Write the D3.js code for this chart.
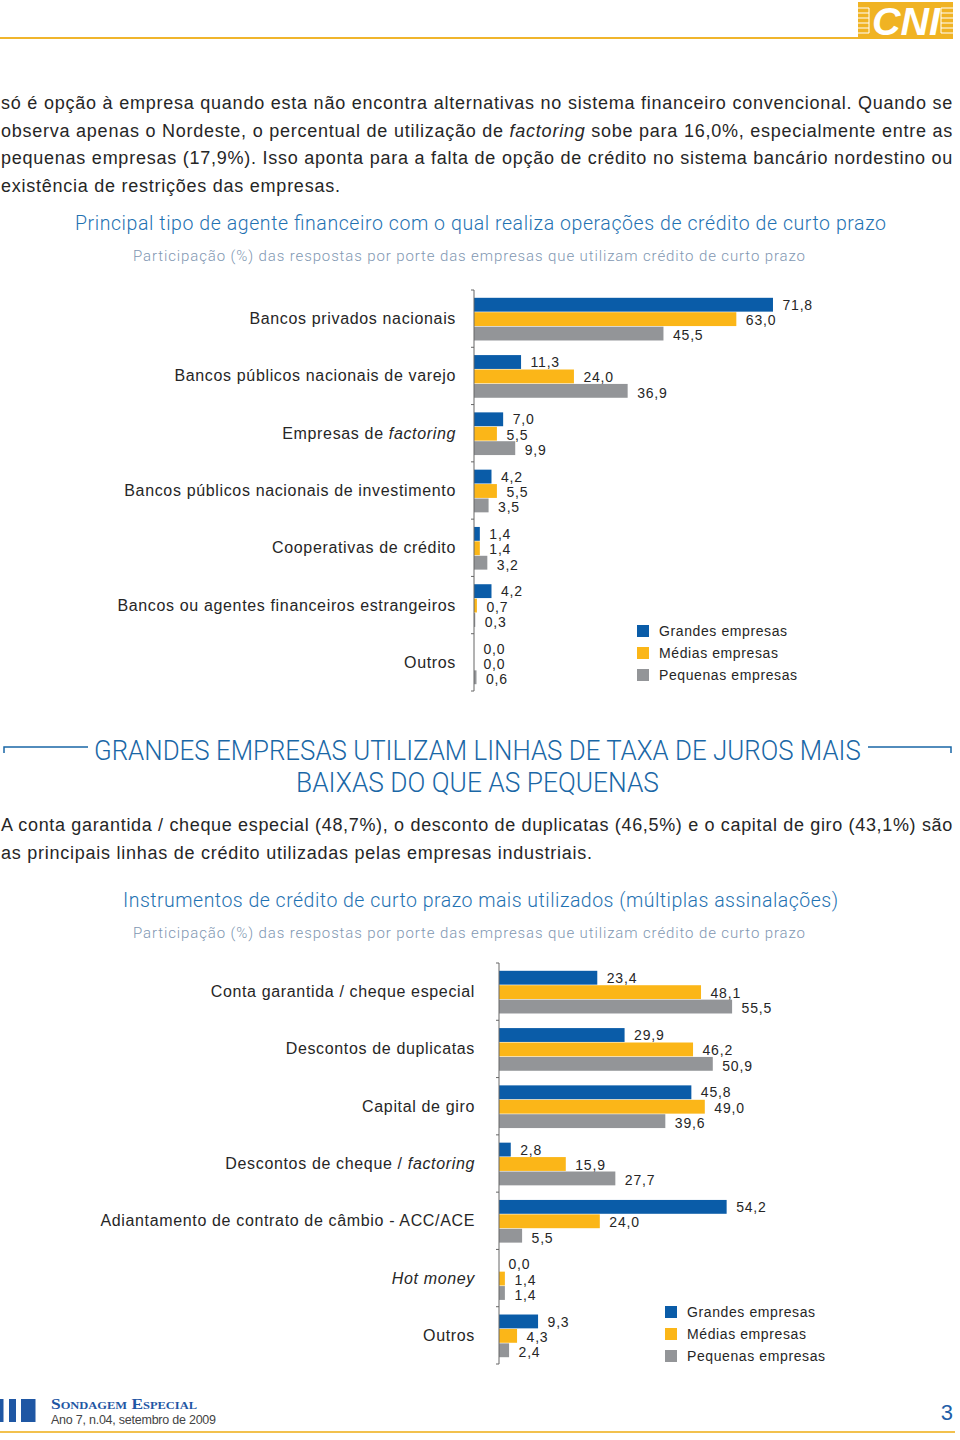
<!DOCTYPE html>
<html>
<head>
<meta charset="utf-8">
<script src="https://cdn.jsdelivr.net/npm/d3@7"></script>
<style>
  html, body { margin: 0; padding: 0; background: #fff; }
  svg { display: block; }
</style>
</head>
<body>
<script>
// ---------------- DATA ----------------
const series = ["Grandes empresas", "Médias empresas", "Pequenas empresas"];
const italicWords = ["factoring", "Hot money"];

const categories1 = [
  "Bancos privados nacionais",
  "Bancos públicos nacionais de varejo",
  "Empresas de factoring",
  "Bancos públicos nacionais de investimento",
  "Cooperativas de crédito",
  "Bancos ou agentes financeiros estrangeiros",
  "Outros"
];
const grandes1 = [71.8, 11.3, 7.0, 4.2, 1.4, 4.2, 0.0];
const medias1 = [63.0, 24.0, 5.5, 5.5, 1.4, 0.7, 0.0];
const pequenas1 = [45.5, 36.9, 9.9, 3.5, 3.2, 0.3, 0.6];

const categories2 = [
  "Conta garantida / cheque especial",
  "Descontos de duplicatas",
  "Capital de giro",
  "Descontos de cheque / factoring",
  "Adiantamento de contrato de câmbio - ACC/ACE",
  "Hot money",
  "Outros"
];
const grandes2 = [23.4, 29.9, 45.8, 2.8, 54.2, 0.0, 9.3];
const medias2 = [48.1, 46.2, 49.0, 15.9, 24.0, 1.4, 4.3];
const pequenas2 = [55.5, 50.9, 39.6, 27.7, 5.5, 1.4, 2.4];

const title1 = "Principal tipo de agente financeiro com o qual realiza operações de crédito de curto prazo";
const title2 = "Instrumentos de crédito de curto prazo mais utilizados (múltiplas assinalações)";
const subtitle = "Participação (%) das respostas por porte das empresas que utilizam crédito de curto prazo";

const para1 = [
  "só é opção à empresa quando esta não encontra alternativas no sistema financeiro convencional. Quando se",
  "observa apenas o Nordeste, o percentual de utilização de factoring sobe para 16,0%, especialmente entre as",
  "pequenas empresas (17,9%). Isso aponta para a falta de opção de crédito no sistema bancário nordestino ou",
  "existência de restrições das empresas."
];
const para2 = [
  "A conta garantida / cheque especial (48,7%), o desconto de duplicatas (46,5%) e o capital de giro (43,1%) são",
  "as principais linhas de crédito utilizadas pelas empresas industriais."
];
const heading = ["GRANDES EMPRESAS UTILIZAM LINHAS DE TAXA DE JUROS MAIS", "BAIXAS DO QUE AS PEQUENAS"];

// ---------------- STYLE ----------------
const colors = ["#0a5ca8", "#fbb618", "#939598"];
const FONT = "'Liberation Sans', Arial, Helvetica, sans-serif";
const LIGHT = "Roboto, 'Liberation Sans', Arial, sans-serif";
const textDark = "#262626";

const svg = d3.select("body").append("svg")
  .attr("width", 960).attr("height", 1440)
  .style("font-family", FONT);

// split text into segments with italic words
function segments(str) {
  const out = [];
  let rest = str;
  while (rest.length) {
    let best = -1, word = null;
    italicWords.forEach(w => {
      const i = rest.indexOf(w);
      if (i >= 0 && (best < 0 || i < best)) { best = i; word = w; }
    });
    if (best < 0) { out.push([rest, false]); break; }
    if (best > 0) out.push([rest.slice(0, best), false]);
    out.push([word, true]);
    rest = rest.slice(best + word.length);
  }
  return out;
}
function addSegs(t, str) {
  segments(str).forEach(([s, it]) => {
    t.append("tspan").text(s).attr("font-style", it ? "italic" : null);
  });
}

// ---------------- HEADER ----------------
svg.append("rect").attr("x", 0).attr("y", 37).attr("width", 860).attr("height", 2).attr("fill", "#f0b52c");
const logo = svg.append("g");
logo.append("rect").attr("x", 858).attr("y", 2).attr("width", 95).attr("height", 37).attr("fill", "#f0b323");
[8, 13, 18, 23, 28, 33].forEach(yy => {
  logo.append("line").attr("x1", 858).attr("x2", 869).attr("y1", yy).attr("y2", yy).attr("stroke", "#fff").attr("stroke-width", 1);
  logo.append("line").attr("x1", 941).attr("x2", 953).attr("y1", yy).attr("y2", yy).attr("stroke", "#fff").attr("stroke-width", 1);
});
logo.append("line").attr("x1", 869).attr("x2", 869).attr("y1", 8).attr("y2", 33).attr("stroke", "#fff");
logo.append("line").attr("x1", 941).attr("x2", 941).attr("y1", 8).attr("y2", 33).attr("stroke", "#fff");
logo.append("text").attr("x", 872).attr("y", 35).text("CNI")
  .attr("font-size", 39).attr("font-weight", "bold").attr("font-style", "italic")
  .attr("fill", "#fff").attr("textLength", 68).attr("lengthAdjust", "spacingAndGlyphs");

// ---------------- PARAGRAPHS ----------------
function paragraph(lines, x, y0, lh, width) {
  lines.forEach((ln, i) => {
    const t = svg.append("text").attr("x", x).attr("y", y0 + i * lh)
      .attr("font-size", 18).attr("fill", textDark).attr("letter-spacing", 0.75);
    addSegs(t, ln);
    if (i < lines.length - 1) {
      const len = t.node().getComputedTextLength();
      const spaces = (ln.match(/ /g) || []).length;
      if (spaces > 0 && len < width) t.attr("word-spacing", (width - len) / spaces);
      else if (len > width) t.attr("textLength", width).attr("lengthAdjust", "spacing");
    }
  });
}
paragraph(para1, 1, 109, 27.6, 952);
paragraph(para2, 1, 831, 27.6, 952);

// ---------------- HEADING ----------------
svg.append("path").attr("d", "M4,753V747H88").attr("fill", "none").attr("stroke", "#1a67a6").attr("stroke-width", 1.5);
svg.append("path").attr("d", "M868,747H951V753").attr("fill", "none").attr("stroke", "#1a67a6").attr("stroke-width", 1.5);
// condensed look: pick a font size whose natural width fits, then stretch vertically
function condensedLine(str, x, baseline, width, capFont) {
  const t = svg.append("text").text(str)
    .attr("font-family", LIGHT).attr("font-weight", 300)
    .attr("font-size", capFont).attr("fill", "#1a67a6");
  const L = t.node().getComputedTextLength();
  const fs = capFont * width / L;
  const sy = capFont / fs;
  t.attr("font-size", fs)
    .attr("transform", `translate(${x},${baseline}) scale(1,${sy})`);
}
condensedLine(heading[0], 94, 759.5, 767, 27.5);
condensedLine(heading[1], 296, 792, 363, 27.5);

// ---------------- CHARTS ----------------
function titleBlock(title, tx, tw, ty, sx, sw, sy) {
  svg.append("text").attr("x", tx).attr("y", ty).text(title)
    .attr("font-family", LIGHT).attr("font-weight", 300)
    .attr("font-size", 19.5).attr("fill", "#1f72b2")
    .attr("textLength", tw).attr("lengthAdjust", "spacing");
  svg.append("text").attr("x", sx).attr("y", sy).text(subtitle)
    .attr("font-family", LIGHT).attr("font-weight", 300)
    .attr("font-size", 15).attr("fill", "#7f97b2")
    .attr("textLength", sw).attr("lengthAdjust", "spacing");
}

function drawChart(cfg) {
  const { cats, vals, x0, yTop, yBot, pxPer100, labelRight, legX, legY } = cfg;
  const g = svg.append("g");
  const x = d3.scaleLinear().domain([0, 100]).range([x0, x0 + pxPer100]);
  const y = d3.scaleBand().domain(cats).range([yTop, yBot]).padding(0);
  const bw = y.bandwidth();
  const yi = d3.scaleBand().domain([0, 1, 2]).range([7.8, bw - 6.8]).paddingInner(0.04);

  // bars
  vals.forEach((arr, si) => {
    g.selectAll(null).data(arr).enter().append("rect")
      .attr("x", x(0))
      .attr("y", (d, i) => y(cats[i]) + yi(si))
      .attr("width", d => x(d) - x(0))
      .attr("height", yi.bandwidth())
      .attr("fill", colors[si]);
    g.selectAll(null).data(arr).enter().append("text")
      .attr("x", d => x(d) + 9.5)
      .attr("y", (d, i) => y(cats[i]) + yi(si) + yi.bandwidth() / 2 + 6 + (si - 1) * 0.8)
      .attr("font-size", 14).attr("letter-spacing", 0.8).attr("fill", textDark)
      .text(d => d.toFixed(1).replace(".", ","));
  });

  // axis line + boundary ticks
  g.append("line").attr("x1", x(0)).attr("x2", x(0)).attr("y1", yTop).attr("y2", yBot)
    .attr("stroke", "#666").attr("stroke-width", 1);
  const bounds = cats.map(c => y(c)).concat([yBot]);
  g.selectAll(null).data(bounds).enter().append("line")
    .attr("x1", x(0) - 3).attr("x2", x(0)).attr("y1", d => d).attr("y2", d => d)
    .attr("stroke", "#666").attr("stroke-width", 1);

  // category labels
  cats.forEach(c => {
    const t = g.append("text").attr("x", labelRight).attr("y", y(c) + bw / 2 + 5.5)
      .attr("text-anchor", "end").attr("font-size", 16).attr("letter-spacing", 0.65)
      .attr("fill", textDark);
    addSegs(t, c);
  });

  // legend
  series.forEach((s, i) => {
    g.append("rect").attr("x", legX).attr("y", legY + i * 22 - 6).attr("width", 12).attr("height", 12).attr("fill", colors[i]);
    g.append("text").attr("x", legX + 22).attr("y", legY + i * 22 + 5)
      .attr("font-size", 14).attr("letter-spacing", 0.6).attr("fill", textDark).text(s);
  });
}

titleBlock(title1, 75, 811, 230, 133, 672, 261);
drawChart({
  cats: categories1, vals: [grandes1, medias1, pequenas1],
  x0: 474, yTop: 290, yBot: 691, pxPer100: 416.4, labelRight: 456,
  legX: 637, legY: 631
});

titleBlock(title2, 123, 715, 907, 133, 672, 938);
drawChart({
  cats: categories2, vals: [grandes2, medias2, pequenas2],
  x0: 499, yTop: 963, yBot: 1364, pxPer100: 420, labelRight: 475,
  legX: 665, legY: 1312
});

// ---------------- FOOTER ----------------
[[0, 3.5], [9, 7], [21, 14.5]].forEach(([bx, w]) => {
  svg.append("rect").attr("x", bx).attr("y", 1399).attr("width", w).attr("height", 23).attr("fill", "#1f57a4");
});
svg.append("text").attr("x", 51).attr("y", 1409).text("Sondagem Especial")
  .attr("font-family", "'Liberation Serif', 'Times New Roman', serif")
  .attr("font-weight", "bold").attr("font-size", 14).attr("font-variant", "small-caps")
  .attr("fill", "#1f57a4").attr("textLength", 146).attr("lengthAdjust", "spacingAndGlyphs");
svg.append("text").attr("x", 51).attr("y", 1424).text("Ano 7, n.04, setembro de 2009")
  .attr("font-size", 12.5).attr("fill", "#444").attr("textLength", 165).attr("lengthAdjust", "spacing");
svg.append("text").attr("x", 953).attr("y", 1420).attr("text-anchor", "end").text("3")
  .attr("font-size", 22).attr("fill", "#1f5fa8");
svg.append("rect").attr("x", 0).attr("y", 1431).attr("width", 955).attr("height", 2).attr("fill", "#f2c14e");
</script>
</body>
</html>
